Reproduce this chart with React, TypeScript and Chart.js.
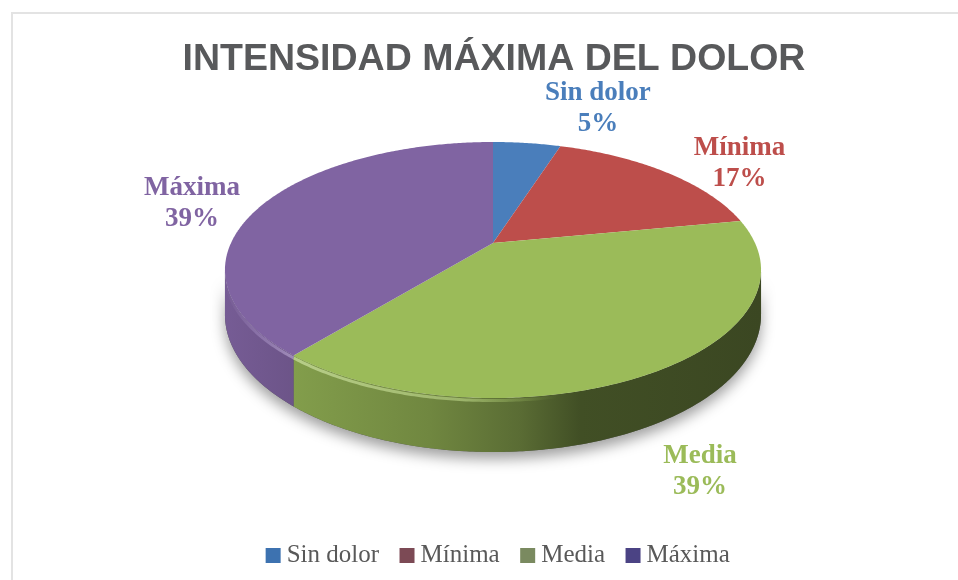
import React, { useEffect, useRef } from "react";
import { Chart, registerables } from "chart.js";

Chart.register(...registerables);

const categories = ["Sin dolor", "Mínima", "Media", "Máxima"];
const percentages = [5, 17, 39, 39];
const sliceColors = ["#4a7ebb", "#bd4e4b", "#9bbb59", "#8064a2"];
const labelColors = ["#4a7ebb", "#bd4e4b", "#9bbb59", "#8064a2"];
const legendKeyColors = ["#3d72b0", "#7c4a55", "#7a8a60", "#4b4384"];
const titleText = "INTENSIDAD MÁXIMA DEL DOLOR";

// projection of the pie disc onto the page (tilted, with perspective)
const CX = 493, CY = 243, R = 262, H = 122.3, K = 0.211, DEPTH = 42.6;
const project = (t: number, depth = 0): [number, number] => {
  const s = Math.sin(t), c = Math.cos(t), w = 1 + K * c;
  return [CX + (R * s) / w, CY + (-H * c + depth) / w];
};
const EXT = Math.acos(-K);
const VIS_FROM = EXT, VIS_TO = 2 * Math.PI - EXT;
// data-label offset from the projected middle of each slice's rim
const labelOffsets: [number, number][] = [[71, -35], [74, -8], [44, 100], [-71, -1]];
const shadeStops: [number, number][] = [[224, 0.92], [296, 0.84], [430, 0.72], [520, 0.58], [580, 0.42], [761, 0.38]];

const rgb = (hex: string) => [1, 3, 5].map((i) => parseInt(hex.slice(i, i + 2), 16));
const shade = (hex: string, f: number) => `rgb(${rgb(hex).map((v) => Math.round(v * f)).join(",")})`;
const tint = (hex: string, a: number, m: number) =>
  `rgba(${rgb(hex).map((v) => Math.round(v + (255 - v) * m)).join(",")},${a})`;

function trace(ctx: CanvasRenderingContext2D, a: number, b: number, depth: number, first: boolean) {
  const n = Math.max(2, Math.ceil(Math.abs(b - a) / 0.01));
  for (let i = 0; i <= n; i++) {
    const p = project(a + ((b - a) * i) / n, depth);
    if (i === 0 && first) ctx.moveTo(p[0], p[1]);
    else ctx.lineTo(p[0], p[1]);
  }
}

const pie3d = {
  id: "pie3d",
  beforeDatasetsDraw(chart: any) {
    const ctx: CanvasRenderingContext2D = chart.ctx;
    const arcs = chart.getDatasetMeta(0).data;
    ctx.save();
    // soft shadow below the base
    ctx.save();
    ctx.shadowColor = "rgba(0,0,0,0.38)";
    ctx.shadowBlur = 14;
    ctx.shadowOffsetY = 7;
    ctx.fillStyle = "#555";
    ctx.beginPath();
    trace(ctx, VIS_FROM, VIS_TO, DEPTH, true);
    trace(ctx, VIS_TO, VIS_FROM, 0, false);
    ctx.closePath();
    ctx.fill();
    ctx.restore();
    // visible side wall
    arcs.forEach((arc: any) => {
      const a = Math.max(arc.startAngle + Math.PI / 2, VIS_FROM);
      const b = Math.min(arc.endAngle + Math.PI / 2, VIS_TO);
      if (b <= a) return;
      const base = arc.options.backgroundColor;
      const g = ctx.createLinearGradient(224, 0, 761, 0);
      shadeStops.forEach(([x, f]) => g.addColorStop((x - 224) / 537, shade(base, f)));
      ctx.fillStyle = g;
      ctx.beginPath();
      trace(ctx, a, b, 0, true);
      trace(ctx, b, a, DEPTH, false);
      ctx.closePath();
      ctx.fill();
    });
    // top face
    arcs.forEach((arc: any) => {
      const a = arc.startAngle + Math.PI / 2, b = arc.endAngle + Math.PI / 2;
      ctx.fillStyle = arc.options.backgroundColor;
      ctx.beginPath();
      ctx.moveTo(CX, CY);
      trace(ctx, a, b, 0, false);
      ctx.closePath();
      ctx.fill();
    });
    // bevel highlight along the front rim
    arcs.forEach((arc: any) => {
      const a = Math.max(arc.startAngle + Math.PI / 2, VIS_FROM);
      const b = Math.min(arc.endAngle + Math.PI / 2, VIS_TO);
      if (b <= a) return;
      const base = arc.options.backgroundColor;
      const g = ctx.createLinearGradient(224, 0, 761, 0);
      g.addColorStop(0, tint(base, 0, 0.12));
      g.addColorStop(0.06, tint(base, 0.8, 0.12));
      g.addColorStop(0.14, tint(base, 0.95, 0.3));
      g.addColorStop(0.45, tint(base, 0.7, 0.22));
      g.addColorStop(0.62, tint(base, 0, 0));
      ctx.strokeStyle = g;
      ctx.lineWidth = 3;
      ctx.beginPath();
      trace(ctx, a, b, 2, true);
      ctx.stroke();
    });
    ctx.restore();
    return false;
  },
};

const sliceLabels = {
  id: "sliceLabels",
  afterDraw(chart: any) {
    const ctx: CanvasRenderingContext2D = chart.ctx;
    const arcs = chart.getDatasetMeta(0).data;
    ctx.save();
    ctx.textAlign = "center";
    ctx.textBaseline = "middle";
    ctx.font = 'bold 27px "Liberation Serif"';
    arcs.forEach((arc: any, i: number) => {
      const mid = (arc.startAngle + arc.endAngle) / 2 + Math.PI / 2;
      const p = project(mid);
      const x = p[0] + labelOffsets[i][0], y = p[1] + labelOffsets[i][1];
      ctx.fillStyle = labelColors[i];
      ctx.fillText(categories[i], x, y - 15.5);
      ctx.fillText(`${percentages[i]}%`, x, y + 15.5);
    });
    ctx.restore();
  },
};

const frame = {
  id: "frame",
  beforeDraw(chart: any) {
    const ctx: CanvasRenderingContext2D = chart.ctx;
    ctx.save();
    ctx.fillStyle = "#ffffff";
    ctx.fillRect(0, 0, chart.width, chart.height);
    ctx.strokeStyle = "#e3e3e3";
    ctx.lineWidth = 2;
    ctx.beginPath();
    ctx.moveTo(12, chart.height);
    ctx.lineTo(12, 13);
    ctx.lineTo(chart.width, 13);
    ctx.stroke();
    ctx.restore();
  },
};

const legendShift = {
  id: "legendShift",
  afterLayout(chart: any) {
    const l = chart.legend;
    l.left += 7; l.right += 7;
    l.top -= 2; l.bottom -= 2;
  },
};

export default function App() {
  const ref = useRef<HTMLCanvasElement>(null);
  useEffect(() => {
    const chart = new Chart(ref.current!, {
      type: "pie",
      data: {
        labels: categories,
        datasets: [{ data: percentages, backgroundColor: sliceColors, borderWidth: 0 }],
      },
      options: {
        animation: false,
        responsive: false,
        layout: { padding: { left: 30, right: 0, top: 37, bottom: 0 } },
        plugins: {
          title: {
            display: true,
            text: titleText,
            color: "#58595b",
            font: { family: '"Liberation Sans"', size: 37.5, weight: "bold" },
            padding: { top: 0, bottom: 10 },
          },
          legend: {
            position: "bottom",
            labels: {
              usePointStyle: true,
              pointStyle: "rect",
              boxWidth: 2,
              boxHeight: 15,
              padding: 27,
              color: "#595959",
              font: { family: '"Liberation Serif"', size: 25 },
              generateLabels: () =>
                categories.map((text, i) => ({
                  text,
                  fillStyle: legendKeyColors[i],
                  strokeStyle: legendKeyColors[i],
                  lineWidth: 0,
                  fontColor: "#595959",
                  pointStyle: "rect",
                  index: i,
                })),
            },
          },
          tooltip: { enabled: false },
        },
      },
      plugins: [frame, legendShift, pie3d, sliceLabels],
    } as any);
    return () => chart.destroy();
  }, []);
  return (
    <div style={{ position: "fixed", left: 0, top: 0, width: 958, height: 580 }}>
      <canvas ref={ref} width={958} height={580} style={{ display: "block", filter: "blur(0.5px)" }} />
    </div>
  );
}
